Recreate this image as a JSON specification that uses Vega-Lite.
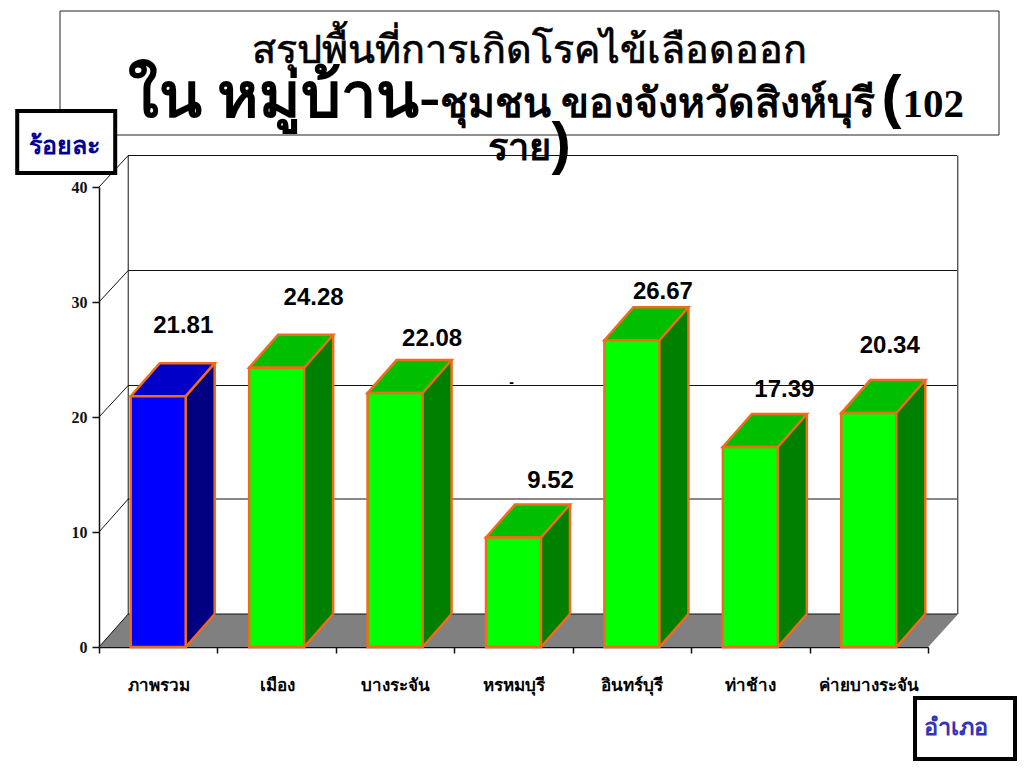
{
"$schema":"https://vega.github.io/schema/vega-lite/v6.json",
"width":829,"height":460,"autosize":"none",
"padding":{"left":99,"top":187,"right":96,"bottom":121},
"background":"white",
"config":{"view":{"stroke":null}},
"data":{"values":[
{"district":"ภาพรวม","value":21.81},
{"district":"เมือง","value":24.28},
{"district":"บางระจัน","value":22.08},
{"district":"หรหมบุรี","value":9.52},
{"district":"อินทร์บุรี","value":26.67},
{"district":"ท่าช้าง","value":17.39},
{"district":"ค่ายบางระจัน","value":20.34}
]},
"encoding":{
"x":{"field":"district","type":"nominal","title":null,"sort":null,
"axis":{"title":null,"tickBand":"extent","labelAngle":0,"labelFont":"Liberation Serif","labelFontWeight":"bold","labelFontSize":17,"labelColor":"black","labelPadding":24,"tickColor":"#111111","tickSize":6,"tickWidth":1.5,"domainColor":"#111111","domainWidth":1.5,"grid":false,"labelOverlap":false,"labelLimit":0},
"scale":{"type":"band","paddingInner":0,"paddingOuter":0,"domain":["ภาพรวม","เมือง","บางระจัน","หรหมบุรี","อินทร์บุรี","ท่าช้าง","ค่ายบางระจัน"]}},
"y":{"field":"value","type":"quantitative","title":null,
"axis":{"title":null,"values":[0,10,20,30,40],"grid":false,"labelFont":"Liberation Serif","labelFontWeight":"bold","labelFontSize":16,"labelColor":"#111111","labelPadding":5,"tickColor":"#111111","tickSize":7,"tickWidth":1.5,"domainColor":"#111111","domainWidth":1.5},
"scale":{"domain":[0,40],"nice":false,"zero":true}}
},
"layer":[
{"data":{"values":[{"v":0}]},"mark":{"type":"point","shape":"M-98.2 -636 L840.8 -636 L840.8 -512 L-98.2 -512 Z","size":4,"filled":true,"fill":"white","stroke":"#222222","strokeWidth":1,"opacity":1},
"encoding":{"x":{"datum":"ภาพรวม","type":"nominal","title":null},"y":{"field":"v","type":"quantitative","title":null}}},
{"data":{"values":[{"v":0}]},"mark":{"type":"point","shape":"M-59.2 0 L-30 -33 L800 -33 L770 0 Z","size":4,"filled":true,"fill":"#808080","strokeWidth":0,"opacity":1},
"encoding":{"x":{"datum":"ภาพรวม","type":"nominal","title":null},"y":{"field":"v","type":"quantitative","title":null}}},
{"data":{"values":[{"v":0},{"v":10}]},"mark":{"type":"rule","color":"#111111","strokeWidth":1,"xOffset":29,"x2Offset":29,"yOffset":-33},
"encoding":{"x":{"value":0},"x2":{"value":829},"y":{"field":"v","type":"quantitative","title":null}}},
{"data":{"values":[{"v":20},{"v":30},{"v":40}]},"mark":{"type":"rule","color":"#111111","strokeWidth":1,"xOffset":29,"x2Offset":29,"yOffset":-31.5},
"encoding":{"x":{"value":0},"x2":{"value":829},"y":{"field":"v","type":"quantitative","title":null}}},
{"data":{"values":[{"v":0},{"v":10}]},"mark":{"type":"point","shape":"M-59.2 0 L-30 -33","size":4,"filled":false,"stroke":"#111111","strokeWidth":1,"opacity":1},
"encoding":{"x":{"datum":"ภาพรวม","type":"nominal","title":null},"y":{"field":"v","type":"quantitative","title":null}}},
{"data":{"values":[{"v":20},{"v":30},{"v":40}]},"mark":{"type":"point","shape":"M-59.2 0 L-30 -31.5","size":4,"filled":false,"stroke":"#111111","strokeWidth":1,"opacity":1},
"encoding":{"x":{"datum":"ภาพรวม","type":"nominal","title":null},"y":{"field":"v","type":"quantitative","title":null}}},
{"data":{"values":[{"a":40,"b":0}]},"mark":{"type":"rule","color":"#111111","strokeWidth":1,"xOffset":-30,"yOffset":-31.5,"y2Offset":-33},
"encoding":{"x":{"datum":"ภาพรวม","type":"nominal","title":null},"y":{"field":"a","type":"quantitative","title":null},"y2":{"field":"b"}}},
{"data":{"values":[{"a":40,"b":0}]},"mark":{"type":"rule","color":"#111111","strokeWidth":1,"xOffset":89,"yOffset":-31.5,"y2Offset":-33},
"encoding":{"x":{"datum":"ค่ายบางระจัน","type":"nominal","title":null},"y":{"field":"a","type":"quantitative","title":null},"y2":{"field":"b"}}},
{"mark":{"type":"bar","size":29,"xOffset":42,"x2Offset":42,"yOffset":-33,"y2Offset":-33},
"encoding":{"y2":{"datum":0},"fill":{"condition":{"test":"datum.district==='ภาพรวม'","value":"#000080"},"value":"#008000"}}},
{"mark":{"type":"point","shape":"M27.5 0 L27.5 -33 L56.5 -33 Z","size":4,"filled":true,"strokeWidth":0,"opacity":1},
"encoding":{"y":{"datum":0,"type":"quantitative","title":null},"fill":{"condition":{"test":"datum.district==='ภาพรวม'","value":"#000080"},"value":"#008000"}}},
{"mark":{"type":"point","shape":"M27.5 0 L56.5 -33","size":4,"filled":false,"stroke":"#f26a1b","strokeWidth":2.5,"opacity":1},
"encoding":{"y":{"datum":0,"type":"quantitative","title":null}}},
{"mark":{"type":"rule","color":"#f26a1b","strokeWidth":2.5,"xOffset":56.5,"yOffset":-33,"y2Offset":-33},
"encoding":{"y2":{"datum":0}}},
{"mark":{"type":"point","shape":"M-27.5 0 L27.5 0 L56.5 -33 L1.5 -33 Z","size":4,"filled":true,"stroke":"#f26a1b","strokeWidth":2.5,"opacity":1},
"encoding":{"fill":{"condition":{"test":"datum.district==='ภาพรวม'","value":"#0000c8"},"value":"#00bf00"}}},
{"mark":{"type":"bar","size":55,"stroke":"#f26a1b","strokeWidth":2.5},
"encoding":{"y2":{"datum":0},"fill":{"condition":{"test":"datum.district==='ภาพรวม'","value":"#0000ff"},"value":"#00ff00"}}},
{"transform":[{"filter":"datum.district==='ภาพรวม'"}],"mark":{"type":"text","font":"Liberation Sans","fontWeight":"bold","fontSize":24,"color":"black","dx":25,"dy":-70},"encoding":{"text":{"field":"value","format":".2f"}}},
{"transform":[{"filter":"datum.district==='เมือง'"}],"mark":{"type":"text","font":"Liberation Sans","fontWeight":"bold","fontSize":24,"color":"black","dx":37,"dy":-70},"encoding":{"text":{"field":"value","format":".2f"}}},
{"transform":[{"filter":"datum.district==='บางระจัน'"}],"mark":{"type":"text","font":"Liberation Sans","fontWeight":"bold","fontSize":24,"color":"black","dx":37,"dy":-54},"encoding":{"text":{"field":"value","format":".2f"}}},
{"transform":[{"filter":"datum.district==='หรหมบุรี'"}],"mark":{"type":"text","font":"Liberation Sans","fontWeight":"bold","fontSize":24,"color":"black","dx":37,"dy":-57},"encoding":{"text":{"field":"value","format":".2f"}}},
{"transform":[{"filter":"datum.district==='อินทร์บุรี'"}],"mark":{"type":"text","font":"Liberation Sans","fontWeight":"bold","fontSize":24,"color":"black","dx":31,"dy":-48},"encoding":{"text":{"field":"value","format":".2f"}}},
{"transform":[{"filter":"datum.district==='ท่าช้าง'"}],"mark":{"type":"text","font":"Liberation Sans","fontWeight":"bold","fontSize":24,"color":"black","dx":34,"dy":-57},"encoding":{"text":{"field":"value","format":".2f"}}},
{"transform":[{"filter":"datum.district==='ค่ายบางระจัน'"}],"mark":{"type":"text","font":"Liberation Sans","fontWeight":"bold","fontSize":24,"color":"black","dx":21,"dy":-67},"encoding":{"text":{"field":"value","format":".2f"}}},
{"data":{"values":[{"t":"-","v":23}]},"mark":{"type":"text","font":"Liberation Sans","fontWeight":"bold","fontSize":14,"color":"black","dx":-2},
"encoding":{"x":{"datum":"หรหมบุรี","type":"nominal","title":null},"y":{"field":"v","type":"quantitative","title":null},"text":{"field":"t"}}},
{"data":{"values":[{"v":0}]},"mark":{"type":"point","shape":"M-141 -536 L-43 -536 L-43 -474 L-141 -474 Z","size":4,"filled":true,"fill":"white","stroke":"black","strokeWidth":4,"opacity":1},
"encoding":{"x":{"datum":"ภาพรวม","type":"nominal","title":null},"y":{"field":"v","type":"quantitative","title":null}}},
{"data":{"values":[{"v":0}]},"mark":{"type":"point","shape":"M756.8 51 L856.8 51 L856.8 112 L756.8 112 Z","size":4,"filled":true,"fill":"white","stroke":"black","strokeWidth":4,"opacity":1},
"encoding":{"x":{"datum":"ภาพรวม","type":"nominal","title":null},"y":{"field":"v","type":"quantitative","title":null}}},
{"data":{"values":[{"t":"ร้อยละ","v":43.6}]},"mark":{"type":"text","font":"Liberation Serif","fontWeight":"bold","fontSize":25,"color":"#000099","align":"center","dx":-94},
"encoding":{"x":{"datum":"ภาพรวม","type":"nominal","title":null},"y":{"field":"v","type":"quantitative","title":null},"text":{"field":"t"}}},
{"data":{"values":[{"t":"อำเภอ","v":-7}]},"mark":{"type":"text","font":"Liberation Serif","fontWeight":"bold","fontSize":23.5,"color":"#3333bb","align":"center","dx":87},
"encoding":{"x":{"datum":"ค่ายบางระจัน","type":"nominal","title":null},"y":{"field":"v","type":"quantitative","title":null},"text":{"field":"t"}}},
{"data":{"values":[{"t":"สรุปพื้นที่การเกิดโรคไข้เลือดออก","v":50.8}]},"mark":{"type":"text","font":"Liberation Serif","fontSize":39.5,"color":"black","stroke":"black","strokeWidth":0.7,"align":"center","baseline":"alphabetic","dx":16},
"encoding":{"x":{"datum":"หรหมบุรี","type":"nominal","title":null},"y":{"field":"v","type":"quantitative","title":null},"text":{"field":"t"}}},
{"data":{"values":[{"t":"ใน หมู่บ้าน-","v":46.1}]},"mark":{"type":"text","font":"Liberation Serif","fontWeight":"bold","fontSize":63,"color":"black","align":"left","baseline":"alphabetic","dx":-386},
"encoding":{"x":{"datum":"หรหมบุรี","type":"nominal","title":null},"y":{"field":"v","type":"quantitative","title":null},"text":{"field":"t"}}},
{"data":{"values":[{"t":"ชุมชน ของจังหวัดสิงห์บุรี","v":46.1}]},"mark":{"type":"text","font":"Liberation Serif","fontWeight":"bold","fontSize":41,"color":"black","align":"left","baseline":"alphabetic","dx":-74},
"encoding":{"x":{"datum":"หรหมบุรี","type":"nominal","title":null},"y":{"field":"v","type":"quantitative","title":null},"text":{"field":"t"}}},
{"data":{"values":[{"t":"(","v":46.1}]},"mark":{"type":"text","font":"Liberation Sans","fontWeight":"bold","fontSize":60,"color":"black","align":"left","baseline":"alphabetic","dx":368},
"encoding":{"x":{"datum":"หรหมบุรี","type":"nominal","title":null},"y":{"field":"v","type":"quantitative","title":null},"text":{"field":"t"}}},
{"data":{"values":[{"t":"102","v":46.1}]},"mark":{"type":"text","font":"Liberation Serif","fontWeight":"bold","fontSize":41,"color":"black","align":"left","baseline":"alphabetic","dx":389},
"encoding":{"x":{"datum":"หรหมบุรี","type":"nominal","title":null},"y":{"field":"v","type":"quantitative","title":null},"text":{"field":"t"}}},
{"data":{"values":[{"t":"ราย","v":42.35}]},"mark":{"type":"text","font":"Liberation Serif","fontWeight":"bold","fontSize":38,"color":"black","align":"left","baseline":"alphabetic","dx":-26},
"encoding":{"x":{"datum":"หรหมบุรี","type":"nominal","title":null},"y":{"field":"v","type":"quantitative","title":null},"text":{"field":"t"}}},
{"data":{"values":[{"t":")","v":42.1}]},"mark":{"type":"text","font":"Liberation Sans","fontWeight":"bold","fontSize":58,"color":"black","align":"left","baseline":"alphabetic","dx":38},
"encoding":{"x":{"datum":"หรหมบุรี","type":"nominal","title":null},"y":{"field":"v","type":"quantitative","title":null},"text":{"field":"t"}}}
]
}
